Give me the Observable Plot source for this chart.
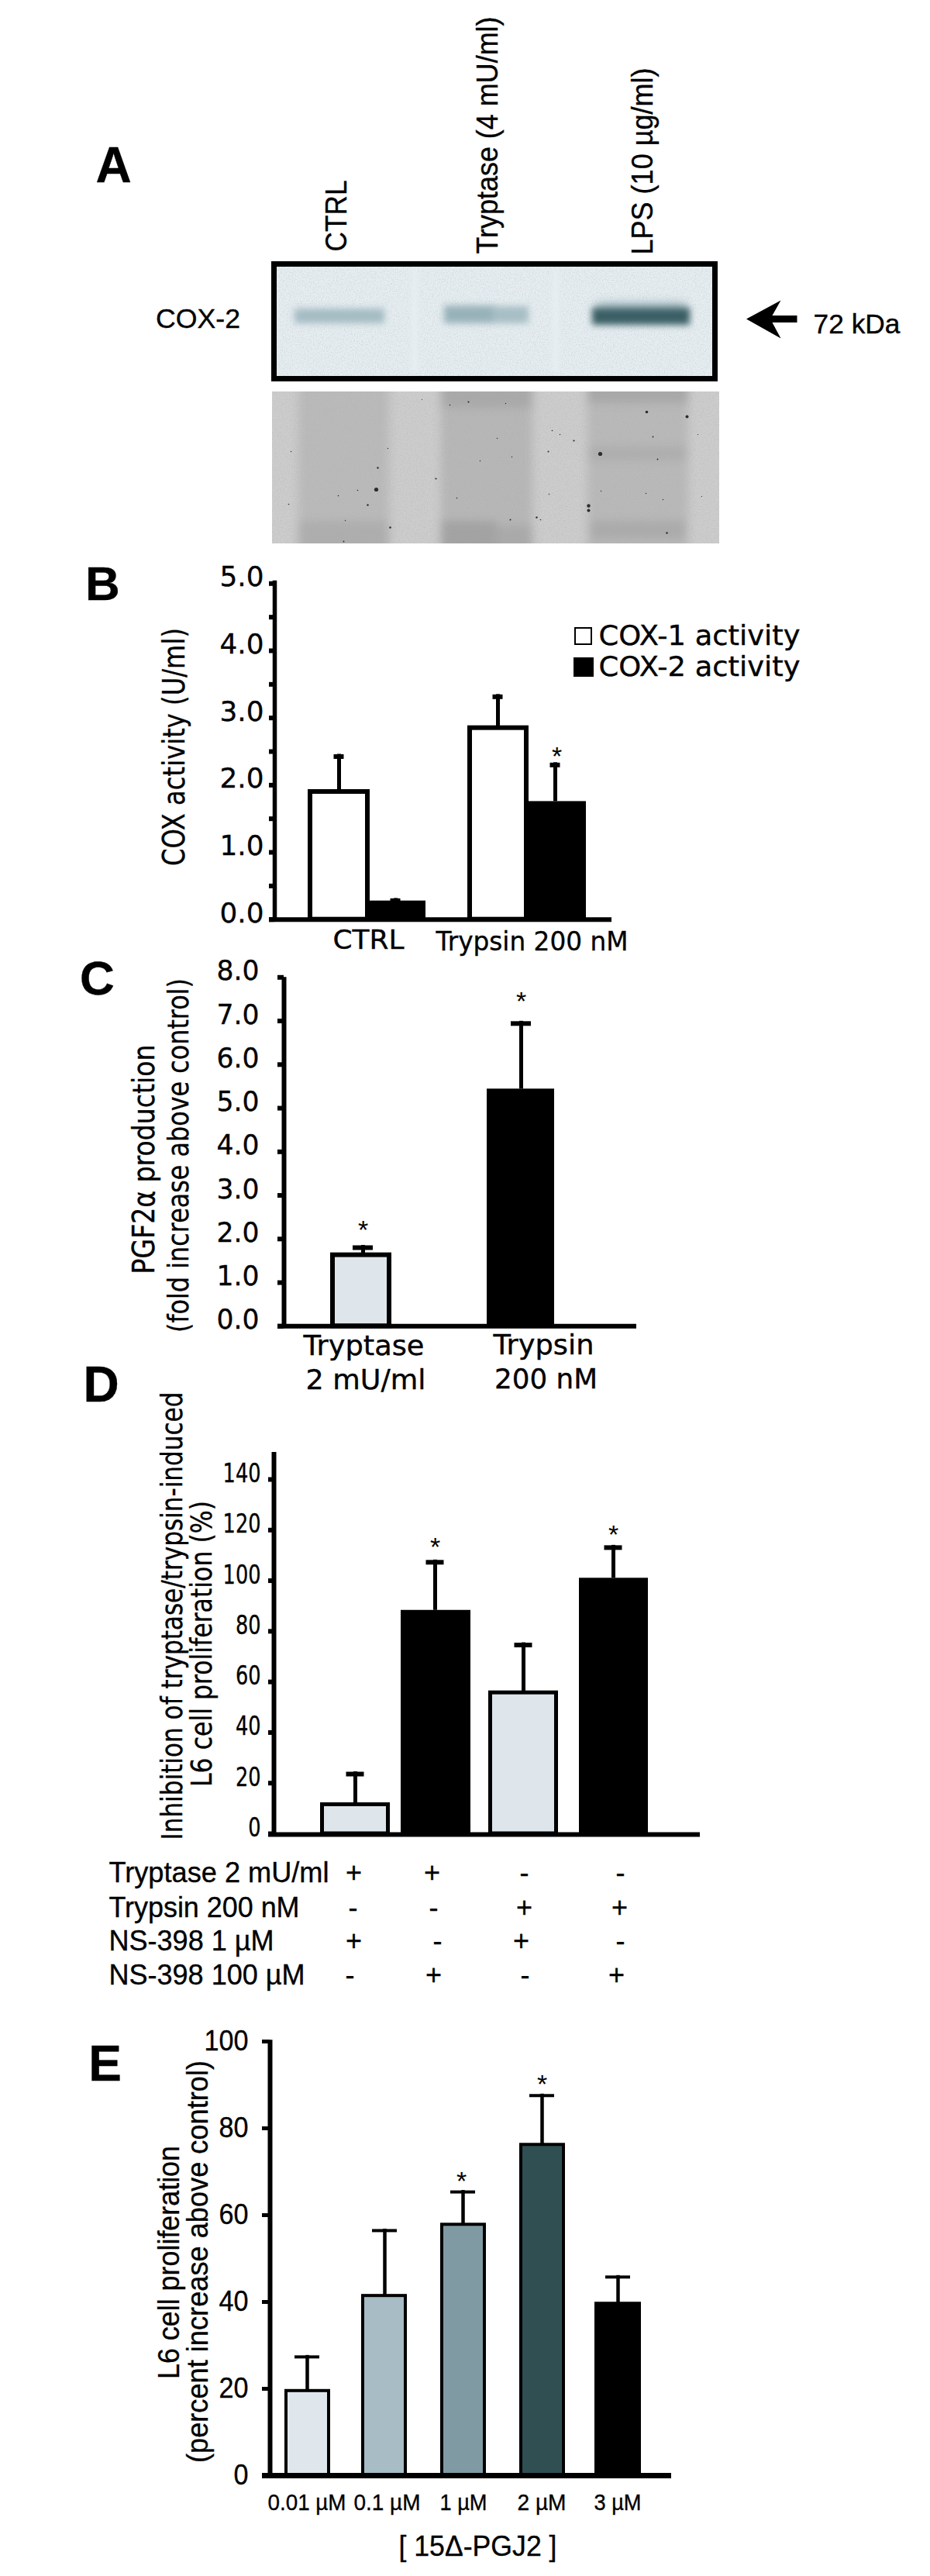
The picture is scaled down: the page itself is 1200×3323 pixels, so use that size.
<!DOCTYPE html>
<html>
<head>
<meta charset="utf-8">
<script src="https://cdn.jsdelivr.net/npm/d3@7"></script>
<script src="https://cdn.jsdelivr.net/npm/@observablehq/plot@0.6"></script>
<style>
html,body{margin:0;padding:0;background:#fff}
#page{position:relative;width:1200px;height:3323px;overflow:hidden;background:#fff}
#page>svg{position:absolute;left:0}
</style>
</head>
<body>
<svg width="0" height="0" style="position:absolute">
  <filter id="grain" x="0" y="0" width="100%" height="100%">
    <feTurbulence type="fractalNoise" baseFrequency="0.7" numOctaves="2" seed="4" result="n"/>
    <feColorMatrix in="n" type="matrix" values="0 0 0 0 0.35  0 0 0 0 0.35  0 0 0 0 0.35  0 0 0 0.8 -0.34" result="g"/>
    <feComposite in="g" in2="SourceGraphic" operator="atop"/>
  </filter>
</svg>
<div id="page"></div>
<script>
// ---------- DATA ----------
// Panel A
const aLanes = ["CTRL", "Tryptase (4 mU/ml)", "LPS (10 µg/ml)"];
const aBandLabel = "COX-2";
const aSizeLabel = "72 kDa";
// Panel B
const bTicks = [0, 1, 2, 3, 4, 5];
const bMinorTicks = [0.5, 1.5, 2.5, 3.5, 4.5];
const bGroups = ["CTRL", "Trypsin 200 nM"];
const bCox1 = [1.9, 2.85];
const bCox1Err = [2.46, 3.35];
const bCox2 = [0.277, 1.757];
const bCox2Err = [0.315, 2.335];
const bLegend = ["COX-1 activity", "COX-2 activity"];
// Panel C
const cTicks = [0, 1, 2, 3, 4, 5, 6, 7, 8];
const cValues = [1.63, 5.44];
const cErr = [1.855, 6.995];
// Panel D
const dTicks = [0, 20, 40, 60, 80, 100, 120, 140];
const dValues = [11.5, 88.3, 55.7, 101];
const dErr = [24.5, 108.2, 75.5, 114];
const dRows = ["Tryptase 2 mU/ml", "Trypsin 200 nM", "NS-398 1 µM", "NS-398 100 µM"];
const dSigns = [["+","+","-","-"], ["-","-","+","+"], ["+","-","+","-"], ["-","+","-","+"]];
// Panel E
const eTicks = [0, 20, 40, 60, 80, 100];
const eDoses = ["0.01 µM", "0.1 µM", "1 µM", "2 µM", "3 µM"];
const eValues = [19.5, 41.4, 57.8, 76.2, 39.6];
const eErr = [27.7, 56.8, 65.7, 87.9, 46.1];

// ---------- LAYOUT (page pixels) ----------
const ARIAL = "'Liberation Sans', Arial, sans-serif";
const DEJA = "'DejaVu Sans', Verdana, sans-serif";
const page = document.getElementById("page");
const zipBars = (vals, errs, edges, stems) => vals.map((v, i) => ({v, e: errs[i], x1: edges[i][0], x2: edges[i][1], s: stems[i]}));

function notes(list, top, family, extra = {}) {
  return Plot.text(list, {
    x: {value: d => d.x, scale: null},
    y: {value: d => d.y - top, scale: null},
    text: d => d.t,
    fontSize: d => d.size,
    rotate: d => d.r || 0,
    fontFamily: family,
    lineAnchor: "bottom",
    textAnchor: "middle",
    fill: "#000",
    ...extra
  });
}
const letter = (t, x, y, size, top) => notes([{t, x, y, size}], top, ARIAL, {fontWeight: "bold"});

function errorBars(d, stemW, capH, capHalf) {
  return [
    Plot.ruleX(d, {x: "s", y1: "v", y2: "e", stroke: "#000", strokeWidth: stemW}),
    Plot.ruleY(d, {y: "e", x1: r => r.s - capHalf, x2: r => r.s + capHalf, stroke: "#000", strokeWidth: capH, dy: capH / 2})
  ];
}

function star(x, yVal, dy) {
  return Plot.text([{x, yVal}], {x: "x", y: "yVal", text: () => "*", dy, fontSize: 34, fontFamily: ARIAL, fill: "#000"});
}

function yAxis(ticks, o) {
  return [
    Plot.ruleX([o.spine], {y1: ticks[0], y2: o.spineTop, stroke: "#000", strokeWidth: o.spineW}),
    Plot.axisY(ticks, {tickSize: o.tickSize, strokeWidth: o.tickW, stroke: "#000", text: null, label: null}),
    Plot.axisY(ticks, {tickSize: 0, tickPadding: o.pad, tickFormat: o.fmt, fontSize: o.size, fontFamily: o.family, dy: o.dy, label: null, fill: "#000"})
  ];
}

function panel(o) {
  const spine = o.spine || 0;
  const svg = Plot.plot({
    width: 1200, height: o.height,
    marginLeft: spine, marginRight: 0, marginTop: 0, marginBottom: 0,
    x: {domain: [spine, 1200], range: [spine, 1200], axis: null},
    y: {domain: o.yDomain, range: o.yRange.map(v => v - o.top), axis: null},
    style: {background: "transparent", overflow: "visible", maxWidth: "none"},
    marks: o.marks
  });
  svg.style.top = o.top + "px";
  const lens = new Map((o.fit || []).filter(d => d.len).map(d => [d.t, d.len]));
  for (const t of svg.querySelectorAll("text")) {
    const len = lens.get(t.textContent);
    if (len) { t.setAttribute("textLength", len); t.setAttribute("lengthAdjust", "spacingAndGlyphs"); }
    if (t.textContent !== "*") { t.setAttribute("stroke", "#000"); t.setAttribute("stroke-width", "0.35"); }
  }
  if (o.tickLen) for (const t of svg.querySelectorAll('g[aria-label="y-axis tick label"] text')) {
    t.setAttribute("textLength", o.tickLen(t.textContent));
    t.setAttribute("lengthAdjust", "spacingAndGlyphs");
  }
  page.appendChild(svg);
}

// ---------- PANEL A ----------
{
  const top = 0, H = 715;
  const gelBlot = [{x1: 350, x2: 926, y1: 337, y2: 492}];
  const gaps = [{x1: 531, x2: 539, y1: 348, y2: 480}, {x1: 713, x2: 721, y1: 348, y2: 480}];
  const bands = [
    {x1: 380, x2: 496, y1: 398, y2: 417, c: "#a4bcc3"},
    {x1: 573, x2: 640, y1: 394, y2: 417, c: "#98b2b9"},
    {x1: 636, x2: 682, y1: 395, y2: 417, c: "#a8bec5"},
    {x1: 764, x2: 890, y1: 397, y2: 419, c: "#3a5f65"}
  ];
  const halo = [{x1: 770, x2: 885, y1: 390, y2: 402, c: "#a4bbc2"}];
  const gel = [{x1: 351, x2: 928, y1: 505, y2: 701}];
  const lanes = [
    {x1: 385, x2: 502, y1: 495, y2: 712, c: "#aeaeae"},
    {x1: 569, x2: 687, y1: 495, y2: 712, c: "#a8a8a8"},
    {x1: 758, x2: 888, y1: 495, y2: 712, c: "#ababab"},
    {x1: 569, x2: 687, y1: 495, y2: 526, c: "#a0a0a0"},
    {x1: 758, x2: 888, y1: 495, y2: 520, c: "#9c9c9c"},
    {x1: 385, x2: 502, y1: 672, y2: 712, c: "#a6a6a6"},
    {x1: 569, x2: 640, y1: 672, y2: 712, c: "#969696"},
    {x1: 640, x2: 687, y1: 678, y2: 712, c: "#a2a2a2"},
    {x1: 762, x2: 884, y1: 672, y2: 695, c: "#a2a2a2"},
    {x1: 760, x2: 886, y1: 576, y2: 594, c: "#a6a6a6"}
  ];
  const masks = [
    {x1: 320, x2: 351, y1: 470, y2: 735},
    {x1: 928, x2: 960, y1: 470, y2: 735},
    {x1: 320, x2: 960, y1: 470, y2: 505},
    {x1: 320, x2: 960, y1: 701, y2: 735}
  ];
  const specks = [
    [485,631,2.6],[774,585,2.6],[759,652,2.2],[759,658,2],[886,537,2],[834,531,1.8],[487,603,1.2],[604,518,1.1],
    [562,617,1.1],[692,667,1.2],[474,651,1.2],[860,687,1.2],[503,680,1.3],[658,670,1],[740,568,1.1],[707,582,1],
    [443,698,.9],[436,639,.8],[461,632,.8],[580,522,.8],[589,642,.8],[619,594,.7],[660,589,.7],[842,563,.9],[848,592,.9],
    [708,637,.7],[775,633,.7],[833,636,.7],[855,644,.7],[375,582,.7],[372,650,.8],[500,578,.7],[544,515,.6],
    [712,555,.8],[697,670,.8],[722,560,.7],[445,671,.7],[641,565,.7],[652,520,.7],[900,560,.6],[905,640,.6]
  ].map(([x, y, r]) => ({x, y, r}));
  const arrow = [[962.5,411],[1007,387],[996,406.5],[1028,406.5],[1028,415.5],[996,415.5],[1007,436]].map(([x, y]) => ({x, y}));
  const laneNotes = [
    {t: aLanes[0], x: 446, y: 278, size: 38, r: -90, len: 92},
    {t: aLanes[1], x: 641, y: 174, size: 38, r: -90, len: 306},
    {t: aLanes[2], x: 841, y: 207.5, size: 38, r: -90, len: 241},
    {t: aBandLabel, x: 255, y: 422, size: 35, len: 109},
    {t: aSizeLabel, x: 1105, y: 429, size: 35, len: 112}
  ];
  const R = (d, o) => Plot.rect(d, {x1: "x1", x2: "x2", y1: "y1", y2: "y2", ...o});
  panel({
    top, height: H, yDomain: [0, H], yRange: [0, H], fit: laneNotes,
    marks: [
      R(gel, {fill: "#cdcdcd", imageFilter: "url(#grain)"}),
      R(lanes, {fill: "c", fillOpacity: 0.6, imageFilter: "blur(6px)"}),
      Plot.dot(specks, {x: "x", y: "y", r: {value: d => d.r, scale: null}, fill: "#2c2c2c", stroke: "none"}),
      R(masks, {fill: "#fff"}),
      R(gelBlot, {fill: "#e6eef2", imageFilter: "url(#grain)"}),
      R(gaps, {fill: "#e6eef1", imageFilter: "blur(3px)"}),
      R(halo, {fill: "c", imageFilter: "blur(6px)"}),
      R(bands, {fill: "c", imageFilter: "blur(4.5px)"}),
      Plot.rect(gelBlot, {x1: d => d.x1 + 3.5, x2: d => d.x2 - 3.5, y1: d => d.y1 + 3.5, y2: d => d.y2 - 3.5, fill: "none", stroke: "#000", strokeWidth: 7}),
      Plot.line(arrow, {x: "x", y: "y", fill: "#000", stroke: "none"}),
      notes(laneNotes, top, ARIAL),
      letter("A", 146, 234, 64, top)
    ]
  });
}

// ---------- PANEL B ----------
{
  const top = 715;
  const spine = 354;
  const c1 = zipBars(bCox1, bCox1Err, [[400, 474], [606, 679]], [437, 642]);
  const c2 = zipBars(bCox2, bCox2Err, [[477, 549], [682, 756]], [510, 716]);
  const txt = [
    {t: "COX activity (U/ml)", x: 237, y: 963, size: 39, r: -90, len: 307},
    {t: bGroups[0], x: 475, y: 1223, size: 34, len: 92},
    {t: bGroups[1], x: 686, y: 1225, size: 34, len: 248},
    {t: bLegend[0], x: 902, y: 831, size: 35, len: 260},
    {t: bLegend[1], x: 902, y: 871, size: 35, len: 260}
  ];
  const keys = [
    {x1: 742, x2: 763, y1: 810, y2: 831, f: "#fff", w: 2},
    {x1: 740, x2: 766, y1: 848, y2: 873, f: "#000", w: 0}
  ];
  panel({
    top, height: 520, spine, yDomain: [0, 5], yRange: [1185.7, 752.3], fit: txt,
    tickLen: () => 57,
    marks: [
      Plot.rectY(c1, {x1: "x1", x2: "x2", y: "v", fill: "#fff", stroke: "#000", strokeWidth: 6}),
      Plot.rectY(c2, {x1: "x1", x2: "x2", y: "v", fill: "#000"}),
      errorBars(c1, 5, 6, 6.5),
      errorBars(c2, 5, 6, 6.5),
      Plot.axisY(bMinorTicks, {tickSize: 7, strokeWidth: 6, stroke: "#000", text: null, label: null}),
      yAxis(bTicks, {spine, spineTop: 5.04, spineW: 5.5, tickSize: 7, tickW: 6, pad: 14, fmt: d3.format(".1f"), size: 36, family: DEJA, dy: -8}),
      Plot.ruleY([0], {x1: 347, x2: 789, stroke: "#000", strokeWidth: 6}),
      star(718, bCox2Err[1], -8),
      Plot.rect(keys, {x1: "x1", x2: "x2", y1: {value: d => d.y1 - top, scale: null}, y2: {value: d => d.y2 - top, scale: null}, fill: "f", stroke: "#000", strokeWidth: "w"}),
      notes(txt, top, DEJA),
      letter("B", 132, 773, 62, top)
    ]
  });
}

// ---------- PANEL C ----------
{
  const top = 1235;
  const spine = 366;
  const d = zipBars(cValues, cErr, [[429, 502], [628, 715]], [468, 672]);
  const txt = [
    {t: "PGF2α production", x: 198, y: 1495, size: 39, r: -90, len: 296},
    {t: "(fold increase above control)", x: 242, y: 1490, size: 38, r: -90, len: 457},
    {t: "Tryptase", x: 469, y: 1747, size: 35, len: 156},
    {t: "2 mU/ml", x: 471.5, y: 1791, size: 35, len: 155},
    {t: "Trypsin", x: 701, y: 1746, size: 35, len: 130},
    {t: "200 nM", x: 704, y: 1790, size: 35, len: 133}
  ];
  panel({
    top, height: 565, spine, yDomain: [0, 8], yRange: [1710.3, 1260.3], fit: txt,
    tickLen: () => 55,
    marks: [
      Plot.rectY([d[0]], {x1: "x1", x2: "x2", y: "v", fill: "#dee6eb", stroke: "#000", strokeWidth: 6}),
      Plot.rectY([d[1]], {x1: "x1", x2: "x2", y: "v", fill: "#000"}),
      errorBars(d, 5, 6, 13),
      yAxis(cTicks, {spine, spineTop: 8, spineW: 6, tickSize: 8, tickW: 6, pad: 32, fmt: d3.format(".1f"), size: 36, family: DEJA, dy: -8}),
      Plot.ruleY([0], {x1: 358, x2: 821, stroke: "#000", strokeWidth: 6}),
      star(468, cErr[0], -19),
      star(672, cErr[1], -25),
      notes(txt, top, DEJA),
      letter("C", 125, 1282, 62, top)
    ]
  });
}

// ---------- PANEL D ----------
{
  const top = 1750;
  const spine = 353;
  const d = zipBars(dValues, dErr, [[415.5, 500.5], [517, 607], [632.5, 717.5], [747, 836]], [458, 561, 675, 791]);
  const txt = [
    {t: "Inhibition of tryptase/trypsin-induced", x: 234, y: 2084, size: 37, r: -90, len: 578},
    {t: "L6 cell proliferation (%)", x: 272, y: 2120, size: 37, r: -90, len: 369}
  ];
  const rowNotes = [
    {t: dRows[0], x: 282, y: 2427, size: 36, len: 284},
    {t: dRows[1], x: 263, y: 2472, size: 36, len: 246},
    {t: dRows[2], x: 246.5, y: 2515, size: 36, len: 213},
    {t: dRows[3], x: 266.5, y: 2559, size: 36, len: 253}
  ];
  const signX = [[456, 557, 676, 800], [455, 559, 676, 799], [456, 564, 672, 800], [451, 559, 677, 795]];
  const signNotes = dSigns.flatMap((row, i) => row.map((s, j) => ({t: s, x: signX[i][j], y: rowNotes[i].y, size: 36})));
  panel({
    top, height: 850, spine, yDomain: [0, 140], yRange: [2365, 1908], fit: [...txt, ...rowNotes],
    tickLen: s => s.length * 16.3,
    marks: [
      Plot.rectY(d.filter((_, i) => i % 2 === 0), {x1: "x1", x2: "x2", y: "v", fill: "#dee6eb", stroke: "#000", strokeWidth: 5}),
      Plot.rectY(d.filter((_, i) => i % 2 === 1), {x1: "x1", x2: "x2", y: "v", fill: "#000"}),
      errorBars(d, 5, 6, 11.5),
      yAxis(dTicks, {spine, spineTop: 150.7, spineW: 6, tickSize: 7, tickW: 6, pad: 17, size: 33, family: DEJA, dy: -7}),
      Plot.ruleY([0], {x1: 346, x2: 903, stroke: "#000", strokeWidth: 6, dy: 1}),
      star(561, dErr[1], -16),
      star(791, dErr[3], -13),
      notes(txt, top, DEJA),
      letter("D", 130, 1807, 64, top),
      notes(rowNotes, top, ARIAL),
      notes(signNotes, top, ARIAL)
    ]
  });
}

// ---------- PANEL E ----------
{
  const top = 2600;
  const spine = 348;
  const d = zipBars(eValues, eErr, [[369, 424], [468, 523], [570, 625], [672, 727], [769, 825]], [396, 496, 597, 699, 797]);
  const eFills = ["#dfe7ed", "#a7bcc5", "#809aa3", "#2f4f53", "#000"];
  const cx = [395.5, 499, 597.5, 698.5, 796.5];
  const ln = [101, 86, 61, 63, 61];
  const txt = [
    {t: "L6 cell proliferation", x: 230, y: 2918, size: 39, r: -90, len: 301},
    {t: "(percent increase above control)", x: 267, y: 2917, size: 39, r: -90, len: 519},
    ...eDoses.map((t, i) => ({t, x: cx[i], y: 3237, size: 30, len: ln[i]})),
    {t: "[ 15Δ-PGJ2 ]", x: 616, y: 3296, size: 36, len: 204}
  ];
  panel({
    top, height: 723, spine, yDomain: [0, 100], yRange: [3193, 2633], fit: txt,
    tickLen: s => s.length * 19,
    marks: [
      Plot.rectY(d, {x1: "x1", x2: "x2", y: "v", fill: (r, i) => eFills[i], stroke: "#000", strokeWidth: 4}),
      errorBars(d, 4.5, 4, 16),
      yAxis(eTicks, {spine, spineTop: 100.3, spineW: 6, tickSize: 10, tickW: 5, pad: 28, size: 37, family: ARIAL, dy: 0}),
      Plot.ruleY([0], {x1: 338, x2: 866, stroke: "#000", strokeWidth: 7}),
      star(595, eErr[2], -11),
      star(699, eErr[3], -12),
      notes(txt, top, ARIAL),
      letter("E", 135, 2683, 64, top)
    ]
  });
}
</script>
</body>
</html>
